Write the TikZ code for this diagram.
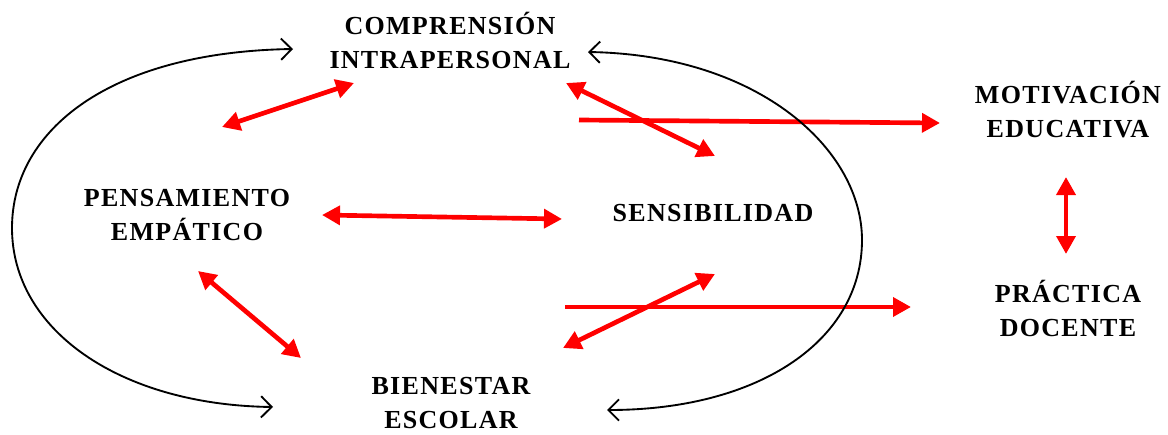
\documentclass[tikz,border=0pt]{standalone}
\usepackage{fontspec}
\setmainfont{Liberation Serif}
\newfontfamily\conceptfont[LetterSpace=5]{Liberation Serif}
\usetikzlibrary{arrows.meta}

\begin{document}
\begin{tikzpicture}[x=0.75pt,y=-0.75pt,
  concept/.style={font=\conceptfont\bfseries\fontsize{19.5}{25.5}\selectfont,align=center,inner sep=0pt},
  redarrow/.style={red,line width=3.5pt,-{Triangle[length=13.5pt,width=14pt]}},
  redboth/.style={red,line width=3.5pt,{Triangle[length=13.5pt,width=14pt]}-{Triangle[length=13.5pt,width=14pt]}},
  cycleline/.style={black,line width=1.4pt,{Straight Barb[length=8pt,width=16pt]}-{Straight Barb[length=8pt,width=16pt]}}]
\useasboundingbox (0,0) rectangle (1168,435);

% Concepts
\node[concept] (comp) at (450,40) {COMPRENSIÓN\\INTRAPERSONAL};
\node[concept] (pens) at (187,215) {PENSAMIENTO\\EMPÁTICO};
\node[concept] (sens) at (713,213) {SENSIBILIDAD};
\node[concept] (bien) at (451,403) {BIENESTAR\\ESCOLAR};
\node[concept] (moti) at (1068,110) {MOTIVACIÓN\\EDUCATIVA};
\node[concept] (prac) at (1068,308) {PRÁCTICA\\DOCENTE};

% Arrow ends
\coordinate (cp1) at (354,83);
\coordinate (cp2) at (222,127);
\coordinate (cs1) at (566,83);
\coordinate (cs2) at (715,156);
\coordinate (cm1) at (579,120);
\coordinate (cm2) at (940,123);
\coordinate (ps1) at (322,215);
\coordinate (ps2) at (562,219);
\coordinate (pb1) at (198,271);
\coordinate (pb2) at (301,358);
\coordinate (sb1) at (715,274);
\coordinate (sb2) at (563,348);
\coordinate (bp1) at (565,307);
\coordinate (bp2) at (911,307);
\coordinate (mp1) at (1066,177);
\coordinate (mp2) at (1066,254);

% Red links
\draw[redboth] (cp2) -- (cp1);
\draw[redboth] (cs1) -- (cs2);
\draw[redarrow] (cm1) -- (cm2);
\draw[redboth] (ps1) -- (ps2);
\draw[redboth] (pb1) -- (pb2);
\draw[redboth] (sb2) -- (sb1);
\draw[redarrow] (bp1) -- (bp2);
\draw[redboth] (mp1) -- (mp2);

% Cycle curves
\coordinate (ltop) at (293,49);
\coordinate (lbot) at (273,407);
\coordinate (rtop) at (588,52);
\coordinate (rbot) at (607,410);
\draw[cycleline] (ltop) .. controls (110,52) and (12,130) .. (12,228)
  .. controls (12,330) and (120,405) .. (lbot);
\draw[cycleline] (rtop) .. controls (760,55) and (862,150) .. (862,240)
  .. controls (862,340) and (760,410) .. (rbot);
\end{tikzpicture}
\end{document}
